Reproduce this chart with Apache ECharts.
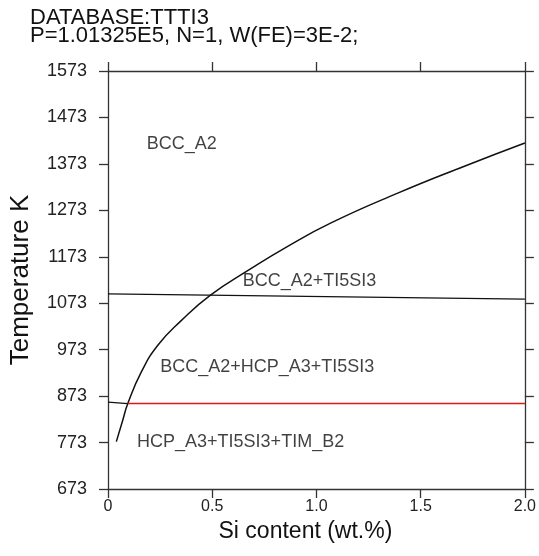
<!DOCTYPE html>
<html style="height: 100%">
<head>
    <meta charset="UTF-8">
    <title>Ti-Si phase diagram</title>
</head>
<body style="height: 100%; margin: 0; background: #fff">
    <div id="container" style="width: 539px; height: 556px"></div>

    <script src="https://cdn.jsdelivr.net/npm/echarts@6/dist/echarts.min.js"></script>

    <script type="text/javascript">
        // phase boundaries (x: wt.% Si, y: K)
        var solvusSi = [0.04, 0.07, 0.095, 0.16, 0.24, 0.35, 0.49, 0.67, 0.86, 1.07, 1.39, 1.71, 2.0];
        var solvusT = [775, 820, 857, 925, 983, 1035, 1090, 1143, 1195, 1246, 1310, 1368, 1418];

        var upperSi = [0, 2.0];
        var upperT = [1093, 1082];

        var eutectoidLeftSi = [0, 0.095];
        var eutectoidLeftT = [860, 857];

        var eutectoidSi = [0.095, 2.0];
        var eutectoidT = [857, 857];

        var phaseNames = ['BCC_A2', 'BCC_A2+TI5SI3', 'BCC_A2+HCP_A3+TI5SI3', 'HCP_A3+TI5SI3+TIM_B2'];
        var phaseSi = [0.184, 0.644, 0.248, 0.137];
        var phaseT = [1416, 1121, 936, 775];

        var yTicks = [673, 773, 873, 973, 1073, 1173, 1273, 1373, 1473, 1573];
        var xTicks = [0, 0.5, 1.0, 1.5, 2.0];

        function pairs(xs, ys) {
            var out = [];
            for (var i = 0; i < xs.length; i++) {
                out.push([xs[i], ys[i]]);
            }
            return out;
        }

        var dom = document.getElementById('container');
        var myChart = echarts.init(dom, null, {renderer: 'canvas'});

        var font = 'Liberation Sans, Arial, Helvetica, sans-serif';
        var axisColor = '#333';

        var labelData = [];
        for (var i = 0; i < phaseNames.length; i++) {
            labelData.push({name: phaseNames[i], value: [phaseSi[i], phaseT[i]]});
        }

        function frameAxis(extra) {
            var base = {
                type: 'value',
                axisLine: {show: true, onZero: false, lineStyle: {color: axisColor, width: 1.3}},
                axisTick: {show: true, inside: false, length: 9, lineStyle: {color: axisColor, width: 1.3}},
                splitLine: {show: false}
            };
            for (var k in extra) base[k] = extra[k];
            return base;
        }

        var option = {
            animation: false,
            backgroundColor: '#fff',
            textStyle: {fontFamily: font},
            title: {
                text: 'DATABASE:TTTI3\nP=1.01325E5, N=1, W(FE)=3E-2;',
                left: 30,
                top: 9,
                padding: 0,
                textStyle: {
                    fontFamily: font,
                    fontSize: 22,
                    fontWeight: 'normal',
                    color: '#111',
                    lineHeight: 18
                }
            },
            grid: {left: 108, right: 11, top: 71, bottom: 67},
            xAxis: [
                frameAxis({
                    position: 'bottom',
                    min: xTicks[0],
                    max: xTicks[xTicks.length - 1],
                    interval: 0.5,
                    name: 'Si content (wt.%)',
                    nameLocation: 'middle',
                    nameGap: 31,
                    nameTextStyle: {fontSize: 23, color: '#111', fontFamily: font, padding: [0, 22, 0, 0]},
                    axisLabel: {
                        fontSize: 16, color: '#222', margin: 10, fontFamily: font,
                        formatter: function (v) { return v === 0 ? '0' : v.toFixed(1); }
                    }
                }),
                frameAxis({
                    position: 'top',
                    min: xTicks[0],
                    max: xTicks[xTicks.length - 1],
                    interval: 0.5,
                    axisLabel: {show: false}
                })
            ],
            yAxis: [
                frameAxis({
                    position: 'left',
                    min: yTicks[0],
                    max: yTicks[yTicks.length - 1],
                    interval: 100,
                    name: 'Temperature K',
                    nameLocation: 'middle',
                    nameGap: 74,
                    nameTextStyle: {fontSize: 26, color: '#111', fontFamily: font},
                    axisLabel: {
                        fontSize: 18, color: '#222', margin: 21, fontFamily: font,
                        formatter: function (v) { return String(v); }
                    }
                }),
                frameAxis({
                    position: 'right',
                    min: yTicks[0],
                    max: yTicks[yTicks.length - 1],
                    interval: 100,
                    axisLabel: {show: false}
                })
            ],
            series: [
                {
                    type: 'line',
                    data: pairs(solvusSi, solvusT),
                    smooth: 0.5,
                    showSymbol: false,
                    lineStyle: {color: '#111', width: 1.5}
                },
                {
                    type: 'line',
                    data: pairs(upperSi, upperT),
                    showSymbol: false,
                    lineStyle: {color: '#111', width: 1.3}
                },
                {
                    type: 'line',
                    data: pairs(eutectoidLeftSi, eutectoidLeftT),
                    showSymbol: false,
                    lineStyle: {color: '#111', width: 1.3}
                },
                {
                    type: 'line',
                    data: pairs(eutectoidSi, eutectoidT),
                    showSymbol: false,
                    lineStyle: {color: '#e0161b', width: 1.5}
                },
                {
                    type: 'scatter',
                    data: labelData,
                    symbolSize: 1,
                    itemStyle: {color: 'rgba(0,0,0,0)'},
                    label: {
                        show: true,
                        position: 'right',
                        distance: 0,
                        formatter: '{b}',
                        fontFamily: font,
                        fontSize: 18,
                        color: '#111'
                    }
                }
            ]
        };

        myChart.setOption(option);
    </script>

</body>
</html>
